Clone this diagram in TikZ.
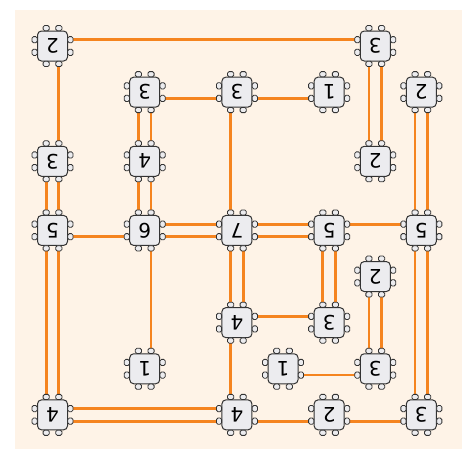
\documentclass[tikz,border=0pt]{standalone}
\usepackage{fontspec}
\setsansfont{DejaVu Sans}
\usetikzlibrary{positioning}
\definecolor{paper}{HTML}{FEF3E7}
\definecolor{wire}{HTML}{F5841F}
\definecolor{chipfill}{HTML}{ECECEF}
\definecolor{chipline}{HTML}{333333}
\newcommand{\upside}[1]{\rotatebox[origin=c]{180}{#1}}
\tikzset{x = 23.05pt, y = -23.05pt,
         island/.style = {draw = chipline, fill = chipfill, line width = 1pt,
                          rounded corners = 4pt, minimum size = 30pt, inner sep = 0pt,
                          font = \sffamily\fontsize{20}{20}\selectfont},
         lug/.style = {draw = chipline, fill = chipfill, line width = 0.8pt,
                       rounded corners = 1.5pt, inner sep = 0pt},
         hlug/.style = {lug, minimum width = 6.2pt, minimum height = 5.2pt},
         vlug/.style = {lug, minimum width = 5.2pt, minimum height = 6.2pt},
         bridge/.style = {draw = wire, line width = 2.8pt}}

\begin{document}
\begin{tikzpicture}
        \useasboundingbox (-2.278,-1.996) rectangle (17.98,17.44);
        \fill[paper] (-1.627,-1.562) rectangle (17.766,17.7);

        % islands, row by row
        \node[island] (i1)  at (0,0)   {\upside{2}};
        \node[island] (i2)  at (14,0)  {\upside{3}};
        \node[island] (i3)  at (4,2)   {\upside{3}};
        \node[island] (i4)  at (8,2)   {\upside{3}};
        \node[island] (i5)  at (12,2)  {\upside{1}};
        \node[island] (i6)  at (16,2)  {\upside{2}};
        \node[island] (i7)  at (0,5)   {\upside{3}};
        \node[island] (i8)  at (4,5)   {\upside{4}};
        \node[island] (i9)  at (14,5)  {\upside{2}};
        \node[island] (i10) at (0,8)   {\upside{5}};
        \node[island] (i11) at (4,8)   {\upside{6}};
        \node[island] (i12) at (8,8)   {\upside{7}};
        \node[island] (i13) at (12,8)  {\upside{5}};
        \node[island] (i14) at (16,8)  {\upside{5}};
        \node[island] (i15) at (14,10) {\upside{2}};
        \node[island] (i16) at (8,12)  {\upside{4}};
        \node[island] (i17) at (12,12) {\upside{3}};
        \node[island] (i18) at (4,14)  {\upside{1}};
        \node[island] (i19) at (10,14) {\upside{1}};
        \node[island] (i20) at (14,14) {\upside{3}};
        \node[island] (i21) at (0,16)  {\upside{4}};
        \node[island] (i22) at (8,16)  {\upside{4}};
        \node[island] (i23) at (12,16) {\upside{2}};
        \node[island] (i24) at (16,16) {\upside{3}};

        % single bridges, across
        \foreach \a/\b in {i1/i2, i13/i14, i16/i17}
          \draw[bridge] ([yshift = 6.3pt]\a.east) -- ([yshift = 6.3pt]\b.west);
        \foreach \a/\b in {i3/i4, i4/i5, i10/i11, i19/i20, i22/i23, i23/i24}
          \draw[bridge] ([yshift = -6.3pt]\a.east) -- ([yshift = -6.3pt]\b.west);
        % single bridges, down
        \foreach \a/\b in {i1/i7, i11/i18}
          \draw[bridge] ([xshift = 6.3pt]\a.south) -- ([xshift = 6.3pt]\b.north);
        \foreach \a/\b in {i4/i12, i16/i22}
          \draw[bridge] ([xshift = -6.3pt]\a.south) -- ([xshift = -6.3pt]\b.north);
        % double bridges
        \foreach \a/\b in {i11/i12, i12/i13, i21/i22}
          \foreach \d in {-6.3, 6.3}
            \draw[bridge] ([yshift = \d pt]\a.east) -- ([yshift = \d pt]\b.west);
        \foreach \a/\b in {i2/i9, i3/i8, i6/i14, i7/i10, i8/i11, i10/i21,
                           i12/i16, i13/i17, i14/i24, i15/i20}
          \foreach \d in {-6.3, 6.3}
            \draw[bridge] ([xshift = \d pt]\a.south) -- ([xshift = \d pt]\b.north);

        % pins round every island
        \foreach \k in {1,...,24}
          \foreach \d in {-6.3, 6.3} {
            \node[hlug] at ([xshift = \d pt, yshift = 2.4pt]i\k.north) {};
            \node[hlug] at ([xshift = \d pt, yshift = -2.4pt]i\k.south) {};
            \node[vlug] at ([xshift = -2.4pt, yshift = \d pt]i\k.west) {};
            \node[vlug] at ([xshift = 2.4pt, yshift = \d pt]i\k.east) {};
          }
\end{tikzpicture}
\end{document}
